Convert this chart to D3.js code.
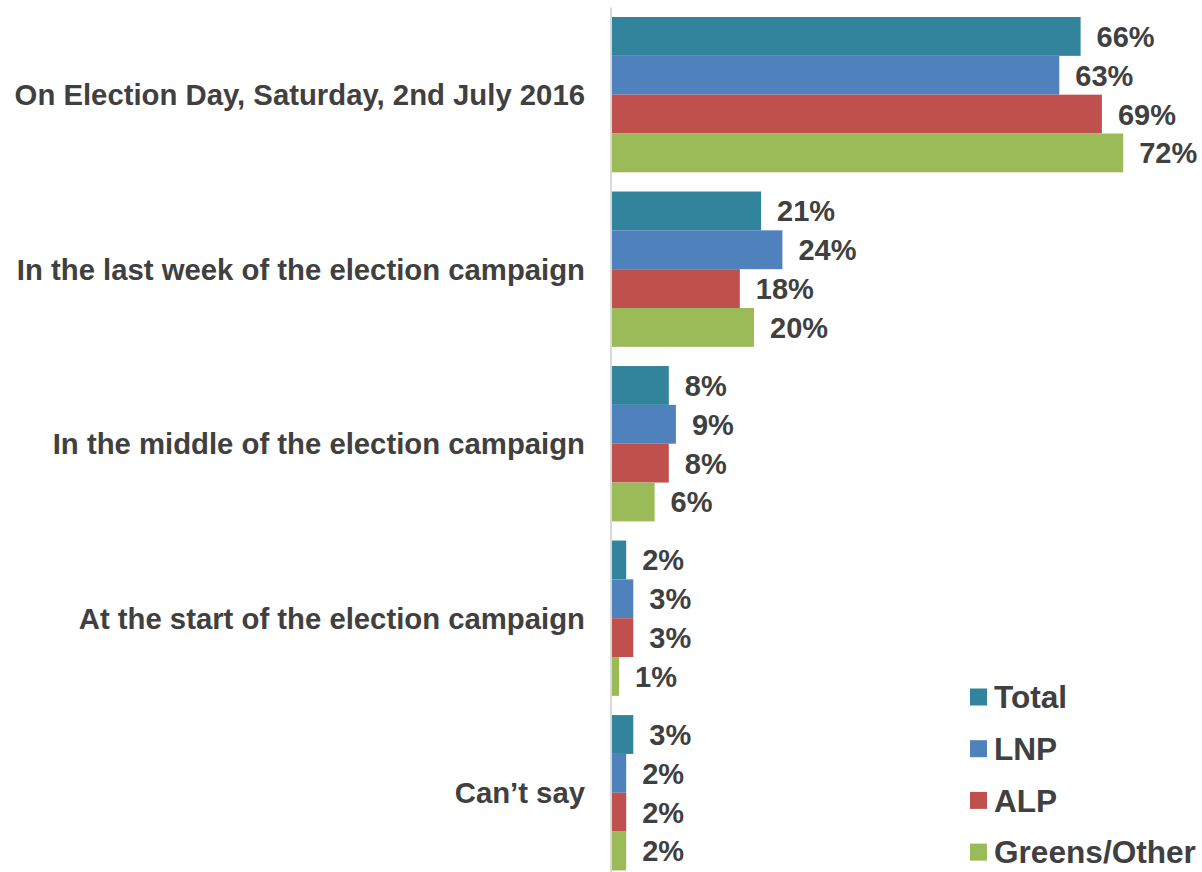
<!DOCTYPE html>
<html>
<head>
<meta charset="utf-8">
<script src="https://cdn.jsdelivr.net/npm/d3@7"></script>
<style>
  body { margin: 0; background: #fff; }
  text { font-family: "Liberation Sans", Arial, sans-serif; font-weight: bold; fill: #404040; }
</style>
</head>
<body>
<div id="chart-area"></div>
<script>
var categories = [
    "On Election Day, Saturday, 2nd July 2016",
    "In the last week of the election campaign",
    "In the middle of the election campaign",
    "At the start of the election campaign",
    "Can\u2019t say"
];
var series = ["Total", "LNP", "ALP", "Greens/Other"];
var total = [66, 21, 8, 2, 3];
var lnp = [63, 24, 9, 3, 2];
var alp = [69, 18, 8, 3, 2];
var greens = [72, 20, 6, 1, 2];
var colors = ["#31849B", "#4F81BD", "#C0504D", "#9BBB59"];

var svg_width = 1202;
var svg_height = 872;
var x0 = 612;

var values = [total, lnp, alp, greens];
var data = categories.map((c, i)=> {
    return { cat: c, vals: series.map((s, j)=> { return { key: s, i: j, v: values[j][i] }; }) };
});

var svg = d3.select("#chart-area").append("svg")
    .attr("width", svg_width)
    .attr("height", svg_height);

var y = d3.scaleBand()
    .domain(categories)
    .range([7.4, 880])
    .paddingInner(0.11)
    .paddingOuter(0.055);

var ySub = d3.scaleBand()
    .domain(series)
    .range([0, y.bandwidth()]);

var x = d3.scaleLinear()
    .domain([0, 72])
    .range([x0, x0 + 72 * 7.1]);

var groups = svg.selectAll("g.cat")
    .data(data)
    .enter().append("g")
    .attr("class", "cat")
    .attr("transform", (d)=> "translate(0," + y(d.cat) + ")");

groups.selectAll("rect")
    .data((d)=> d.vals)
    .enter().append("rect")
    .attr("x", x(0))
    .attr("y", (d)=> ySub(d.key))
    .attr("width", (d)=> x(d.v) - x(0))
    .attr("height", ySub.bandwidth())
    .attr("fill", (d)=> colors[d.i]);

groups.selectAll("text.val")
    .data((d)=> d.vals)
    .enter().append("text")
    .attr("class", "val")
    .attr("x", (d)=> x(d.v) + 16)
    .attr("y", (d)=> ySub(d.key) + ySub.bandwidth() / 2)
    .attr("dy", "0.36em")
    .style("font-size", "29px")
    .text((d)=> d.v + "%");

// category labels
svg.selectAll("text.cat")
    .data(categories)
    .enter().append("text")
    .attr("class", "cat")
    .attr("x", 585)
    .attr("y", (d)=> y(d) + y.bandwidth() / 2)
    .attr("dy", "0.36em")
    .attr("text-anchor", "end")
    .style("font-size", "29.3px")
    .text((d)=> d);

// axis line
svg.append("line")
    .attr("x1", x0 - 1).attr("x2", x0 - 1)
    .attr("y1", y.range()[0]).attr("y2", y.range()[1])
    .attr("stroke", "#d9d9d9")
    .attr("stroke-width", 2);

// legend
var legend = svg.selectAll("g.legend")
    .data(series)
    .enter().append("g")
    .attr("class", "legend")
    .attr("transform", (d, i)=> "translate(970," + (697 + i * 51.7) + ")");

legend.append("rect")
    .attr("x", 0).attr("y", -8.5)
    .attr("width", 17).attr("height", 17)
    .attr("fill", (d, i)=> colors[i]);

legend.append("text")
    .attr("x", 24)
    .attr("dy", "0.36em")
    .style("font-size", "31.6px")
    .text((d)=> d);
</script>
</body>
</html>
